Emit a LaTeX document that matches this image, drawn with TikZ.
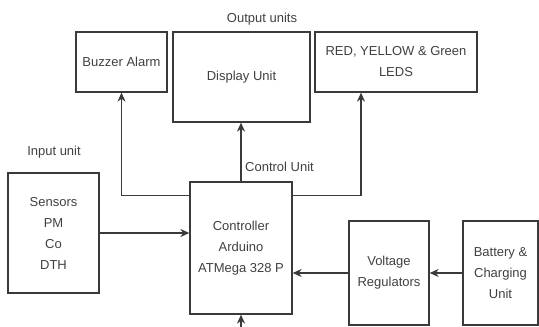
\documentclass[tikz,border=0pt]{standalone}
\usepackage{fontspec}
\setmainfont{Liberation Sans}
\usetikzlibrary{arrows.meta}
\definecolor{BlockGray}{HTML}{3A3A3A}
\definecolor{LabelGray}{HTML}{404040}

\begin{document}
\begin{tikzpicture}[x=1pt,y=1pt,
    unitbox/.style={draw=BlockGray,line width=1.3pt,align=center,inner sep=0pt,text=LabelGray},
    flow/.style={draw=BlockGray,line width=1.2pt,-{Stealth[length=9pt,width=8pt]}},
    every node/.style={font=\fontsize{13}{21}\selectfont}]
  \useasboundingbox (0,0) rectangle (539,327);
  % output units
  \node[unitbox,minimum width=91,minimum height=60] (buzzer) at (121.5,265) {Buzzer Alarm};
  \node[unitbox,minimum width=137,minimum height=90] (display) at (241.5,250) {Display Unit};
  \node[unitbox,minimum width=162,minimum height=60] (leds) at (396,265) {RED, YELLOW \& Green\\LEDS};
  \node[text=LabelGray] (outlbl) at (262,308) {Output units};
  % input unit
  \node[unitbox,minimum width=91,minimum height=120] (sensors) at (53.5,94) {Sensors\\PM\\Co\\DTH};
  \node[text=LabelGray] (inlbl) at (54,175) {Input unit};
  % control unit
  \node[unitbox,minimum width=102,minimum height=132] (ctrl) at (241,79) {Controller\\Arduino\\ATMega 328 P};
  \node[text=LabelGray] (ctrllbl) at (279.5,160) {Control Unit};
  % power
  \node[unitbox,minimum width=80,minimum height=104] (volt) at (389,54) {Voltage\\Regulators};
  \node[unitbox,minimum width=75,minimum height=104] (batt) at (500.5,54) {Battery \&\\Charging\\Unit};
  \coordinate (pwr) at (241,-12);

  \draw[flow] (sensors.east) -- (sensors.east -| ctrl.west);
  \draw[flow] (batt.west) -- (batt.west -| volt.east);
  \draw[flow] (volt.west) -- (volt.west -| ctrl.east);
  \draw[flow] (ctrl.north) -- (ctrl.north |- display.south);
  \draw[flow] ([yshift=-14pt]ctrl.north west) -| (buzzer.south);
  \draw[flow] ([yshift=-14pt]ctrl.north east) -| ([xshift=-35pt]leds.south);
  \draw[flow] (pwr) -- (ctrl.south);
\end{tikzpicture}
\end{document}
